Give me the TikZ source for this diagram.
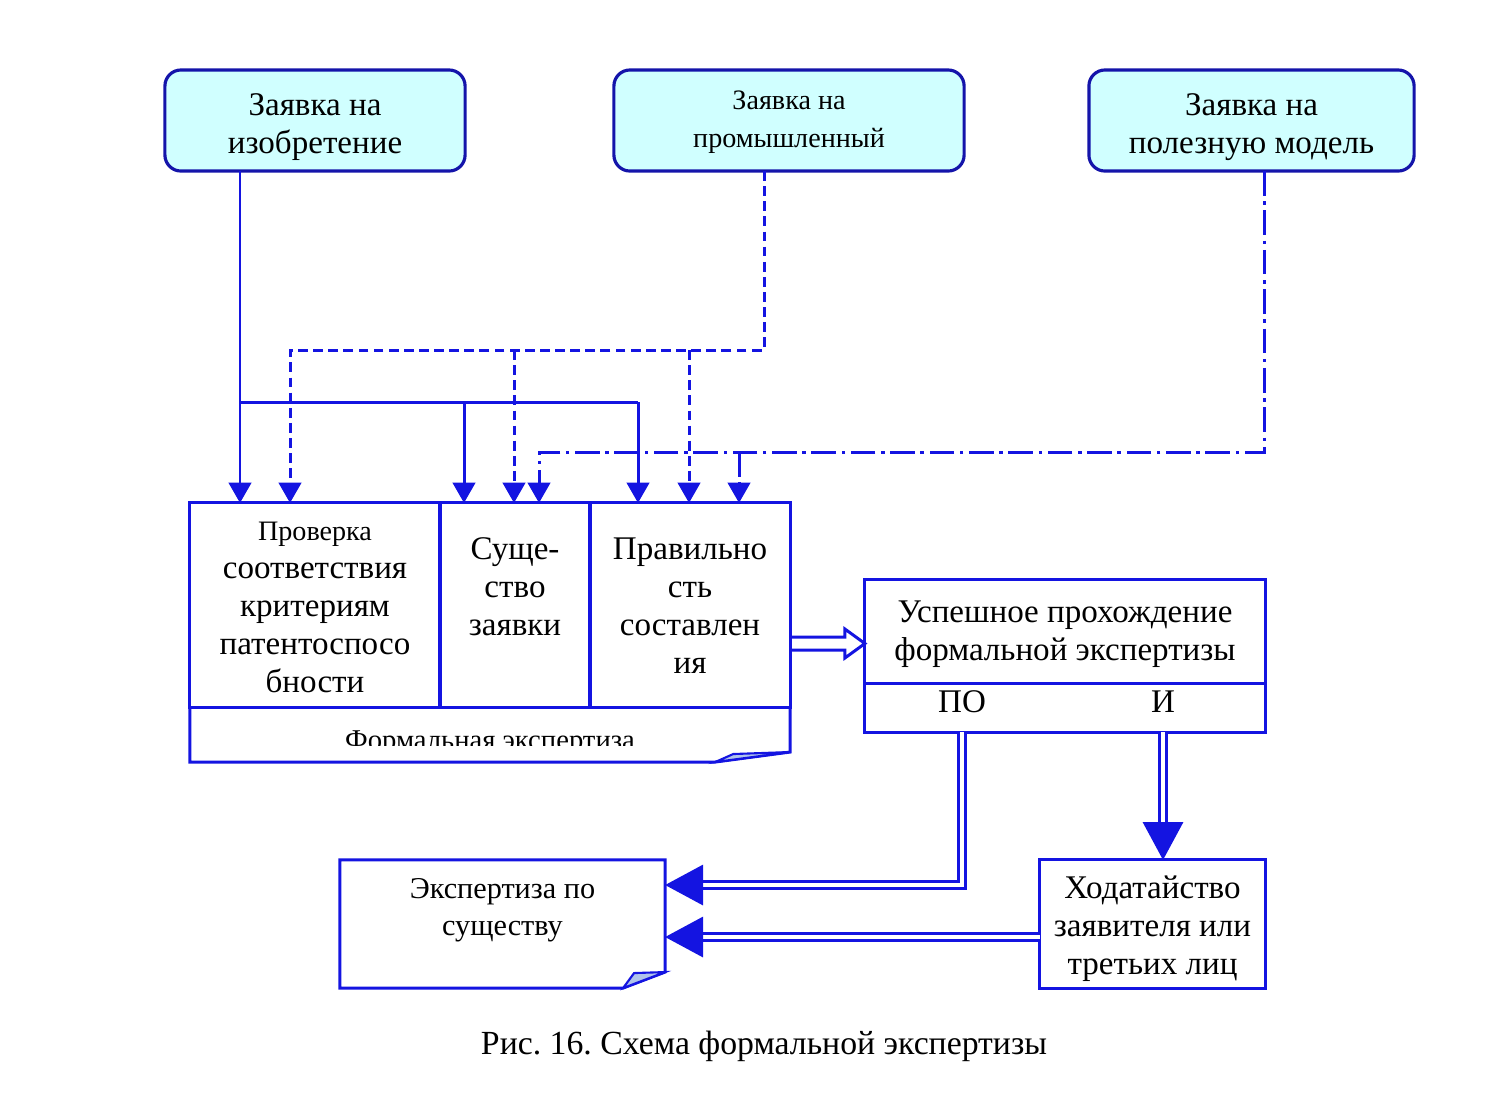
\documentclass[tikz,border=0pt]{standalone}
\usepackage{fontspec}
\setmainfont{Liberation Serif}
\frenchspacing
\usetikzlibrary{arrows.meta,calc,positioning}

\definecolor{lnblue}{RGB}{20,20,225}
\definecolor{bxblue}{RGB}{20,20,170}
\definecolor{zfill}{RGB}{208,255,255}
\definecolor{foldfill}{RGB}{175,195,235}

\tikzset{
  zayavka/.style={draw=bxblue, line width=0.9pt, fill=zfill, rounded corners=0.16cm,
    minimum height=1.01cm, inner sep=0pt, outer sep=0pt},
  kletka/.style={draw=lnblue, line width=0.85pt, inner sep=0pt, outer sep=0pt},
  pusto/.style={inner sep=0pt, outer sep=0pt},
  tekst/.style={align=center, inner sep=0pt, font=\fontsize{9.4}{10.8}\selectfont},
  melko/.style={tekst, font=\fontsize{8}{10.8}\selectfont},
  lin/.style={draw=lnblue, line width=0.85pt},
  strelka/.style={lin, -{Triangle[length=5.8pt,width=6.4pt]}},
  shtrih/.style={strelka, dash pattern=on 2.8pt off 1.5pt},
  shtrihpunkt/.style={strelka, dash pattern=on 7pt off 1.6pt on 1pt off 1.6pt},
  dvoinaya/.style={draw=lnblue, line width=0.9pt, double=white, double distance=1pt,
    -{Triangle[length=10.8pt,width=11.4pt]}},
}

\begin{document}
\begin{tikzpicture}[x=0.01cm, y=-0.01cm]
\useasboundingbox (0,0) rectangle (1507,1111);

% заявки
\node [zayavka, minimum width=3cm] (izo) at (315,120.5) {};
\node [tekst] (izoT) at ($(izo.center)+(0,7)$) {Заявка на\\изобретение};
\node [zayavka, minimum width=3.5cm] (prom) at (789,120.5) {};
\node [melko] (promT) at ($(prom.center)+(0,2)$) {Заявка на\\промышленный};
\node [zayavka, minimum width=3.25cm] (pol) at (1251.5,120.5) {};
\node [tekst] (polT) at ($(pol.center)+(0,7)$) {Заявка на\\полезную модель};

% формальная экспертиза
\node [kletka, minimum width=2.5cm, minimum height=2.04cm] (krit) at (315,605) {};
\node [tekst] (kritT) at ($(krit.center)+(0,2.5)$)
  {{\fontsize{8}{10.8}\selectfont Проверка}\\соответствия\\критериям\\патентоспосо\\бности};
\node [kletka, minimum width=1.5cm, minimum height=2.04cm] (sush) at (515,605) {};
\node [tekst] (sushT) at ($(sush.center)+(0,-18.5)$) {Суще-\\ство\\заявки};
\node [kletka, minimum width=2cm, minimum height=2.04cm] (prav) at (690,605) {};
\node [tekst] (pravT) at ($(prav.center)+(0,0.5)$) {Правильно\\сть\\составлен\\ия};
\node [pusto, minimum width=6cm, minimum height=0.55cm] (fe) at (490,734.5) {};
\draw [lin] (fe.north west) -- (fe.south west) -- ($(fe.south east)+(-75,0)$)
  -- ($(fe.south east)+(0,-10)$) -- (fe.north east);
\begin{scope}
\clip (fe.north west) rectangle ($(fe.east)+(0,11)$);
\node [tekst, anchor=base, font=\fontsize{8.15}{10}\selectfont] (feT) at ($(fe.south)+(0,-13)$) {Формальная экспертиза};
\end{scope}
\draw [lin, line width=0.6pt, fill=foldfill] ($(fe.south east)+(-75,0)$) -- ($(fe.south east)+(-57,-8)$)
  -- ($(fe.south east)+(0,-10)$) -- cycle;

% успешное прохождение
\node [kletka, minimum width=4cm, minimum height=1.03cm] (usp) at (1065,631.5) {};
\node [tekst] (uspT) at ($(usp.center)+(0,2.5)$) {Успешное прохождение\\формальной экспертизы};
\node [kletka, minimum width=4cm, minimum height=0.49cm] (uspb) at (1065,707.5) {};
\node [tekst] (po) at (962,702) {ПО};
\node [tekst] (ii) at (1163,702) {И};

% экспертиза по существу и ходатайство
\node [pusto, minimum width=3.25cm, minimum height=1.28cm] (eks) at (502.5,924) {};
\draw [lin] (eks.north west) -- (eks.north east) -- ($(eks.south east)+(0,-16)$)
  -- ($(eks.south east)+(-42,0)$) -- (eks.south west) -- cycle;
\draw [lin, line width=0.6pt, fill=foldfill] ($(eks.south east)+(-42,0)$) -- ($(eks.south east)+(-31,-15)$)
  -- ($(eks.south east)+(0,-16)$) -- cycle;
\node [tekst, font=\fontsize{8.6}{10.6}\selectfont] (eksT) at ($(eks.center)+(0,-14)$) {Экспертиза по\\существу};
\node [kletka, minimum width=2.25cm, minimum height=1.28cm] (hod) at (1152.5,924) {};
\node [tekst] (hodT) at ($(hod.center)+(0,5)$) {Ходатайство\\заявителя или\\третьих лиц};

% точки входа
\coordinate (t1) at ($(krit.north)+(-75,0)$);
\coordinate (t2) at ($(krit.north)+(-25,0)$);
\coordinate (t3) at ($(sush.north)+(-51,0)$);
\coordinate (t4) at ($(sush.north)+(-1,0)$);
\coordinate (t5) at ($(sush.north)+(24,0)$);
\coordinate (t6) at ($(prav.north)+(-52,0)$);
\coordinate (t7) at ($(prav.north)+(-1,0)$);
\coordinate (t8) at ($(prav.north)+(49,0)$);
\coordinate (ysol) at (0,402);
\coordinate (ydash) at (0,350);
\coordinate (ydd) at (0,452);

% сплошные
\draw [strelka] ($(izo.south)+(-75,0)$) -- (t1);
\draw [lin] (t1 |- ysol) -- (t6 |- ysol);
\draw [strelka] (t3 |- ysol) -- (t3);
\draw [strelka] (t6 |- ysol) -- (t6);

% штриховые
\draw [shtrih] ($(prom.south)+(-25,0)$) |- (t2 |- ydash) -- (t2);
\draw [shtrih] (t4 |- ydash) -- (t4);
\draw [shtrih] (t7 |- ydash) -- (t7);

% штрихпунктир
\draw [shtrihpunkt] ($(pol.south)+(12.5,0)$) |- (t5 |- ydd) -- (t5);
\draw [shtrihpunkt] (t8 |- ydd) -- (t8);

% полая стрелка
\coordinate (h) at ($(usp.west)+(0,12)$);
\coordinate (h0) at (prav.east |- h);
\draw [lin, line join=miter] ($(h0)+(0,-6.5)$) -| ($(h)+(-20,-14.5)$) -- (h)
  -- ($(h)+(-20,14.5)$) |- ($(h0)+(0,6.5)$);

% двойные
\coordinate (e1) at ($(eks.east)+(0,-39)$);
\coordinate (e2) at ($(eks.east)+(0,13)$);
\draw [dvoinaya] (po |- uspb.south) |- (e1);
\draw [dvoinaya] (hod.west |- e2) -- (e2);
\draw [dvoinaya] (ii |- uspb.south) -- (ii |- hod.north);

% подпись
\node [tekst, font=\fontsize{9.6}{11}\selectfont] (podp) at (764,1046) {Рис. 16. Схема формальной экспертизы};
\end{tikzpicture}
\end{document}
